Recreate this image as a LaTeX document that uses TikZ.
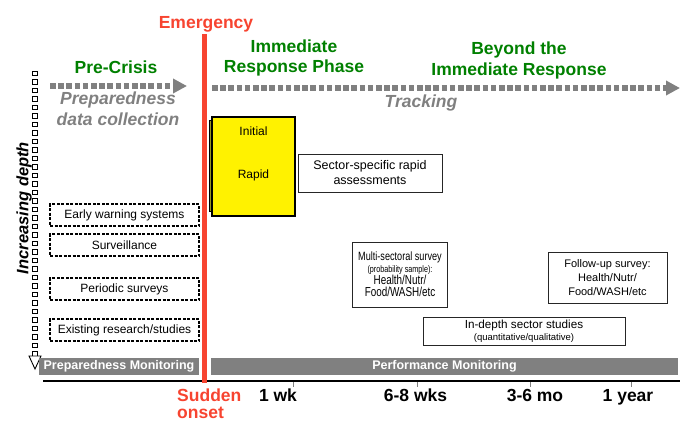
\documentclass[tikz,border=0pt]{standalone}
\usepackage{fontspec}
\setmainfont{Liberation Sans}
\newfontfamily\narrowfont{Liberation Sans}[FakeStretch=0.76]
\usetikzlibrary{arrows.meta}
\definecolor{emred}{RGB}{247,68,48}
\definecolor{ttlgreen}{RGB}{0,128,0}
\definecolor{midgray}{RGB}{128,128,128}
\definecolor{olivebk}{RGB}{150,150,30}
\begin{document}
\begin{tikzpicture}[x=1pt,y=-1pt,
  title/.style={text=ttlgreen, font=\fontsize{17.5}{21}\selectfont\bfseries, anchor=base, inner sep=0pt},
  gtext/.style={text=midgray, font=\fontsize{17.5}{21}\selectfont\bfseries\itshape, anchor=base, inner sep=0pt},
  axlabel/.style={font=\fontsize{17.5}{21}\selectfont\bfseries, anchor=base, inner sep=0pt},
  dotarrow/.style={midgray, line width=5.5pt, dash pattern=on 5.5pt off 2.7pt, -{Triangle[length=14pt,width=14pt]}},
  dashbox/.style={draw, line width=1.2pt, dash pattern=on 3pt off 1.5pt, minimum width=149pt, minimum height=22pt, inner sep=0pt, font=\fontsize{12}{14}\selectfont},
  solidbox/.style={draw=black!85, line width=0.9pt, inner sep=0pt, align=center},
  barnode/.style={fill=midgray, text=white, font=\fontsize{12.5}{14}\selectfont\bfseries, inner sep=0pt, minimum height=17pt},
  sqstyle/.style={draw=black, line width=0.9pt, fill=white}
]
\useasboundingbox (0,0) rectangle (680,421);

% titles
\node[title, text=emred] (emerg) at (206,28.5) {Emergency};
\node[title] (precr) at (116,73) {Pre-Crisis};
\node[title] (irp1) at (294,52.5) {Immediate};
\node[title] (irp2) at (294,72.5) {Response Phase};
\node[title] (bir1) at (519,54) {Beyond the};
\node[title] (bir2) at (519,75) {Immediate Response};

% gray dotted arrows
\coordinate (a1s) at (50,86);
\coordinate (a1e) at (187,86);
\coordinate (a2s) at (212,88);
\coordinate (a2e) at (680,88);
\draw[dotarrow] (a1s) -- (a1e);
\draw[dotarrow] (a2s) -- (a2e);

\node[gtext] (pdc1) at (118,104.5) {Preparedness};
\node[gtext] (pdc2) at (118,125) {data collection};
\node[gtext] (trk) at (421,107) {Tracking};

% increasing depth arrow
\foreach \k in {0,...,33}
  \draw[sqstyle] (32.5,{71+8.5*\k}) rectangle ++(4.5,4.5);
\draw[sqstyle] (29,356) -- (41,356) -- (35,369) -- cycle;
\node[rotate=90, font=\fontsize{16.5}{20}\selectfont\bfseries\itshape, inner sep=0pt] (incd) at (24,208) {Increasing depth};

% left dashed boxes
\node[dashbox] (ews) at (124.5,215) {Early warning systems};
\node[dashbox] (surv) at (124.5,245) {Surveillance};
\node[dashbox] (pers) at (124.5,289) {Periodic surveys};
\node[dashbox] (exrs) at (124.5,330) {Existing research/studies};

% yellow box
\draw[line width=0.8pt, fill=olivebk] (209,120) rectangle (292,211);
\node[draw, line width=2pt, fill=yellow, minimum width=83pt, minimum height=99pt, inner sep=0pt] (yb) at (253.5,166.5) {};
\node[font=\fontsize{12}{14}\selectfont, anchor=base, inner sep=0pt] (init) at (253.5,135) {Initial};
\node[font=\fontsize{12}{14}\selectfont, anchor=base, inner sep=0pt] (rapid) at (253.5,178.3) {Rapid};

% right boxes
\node[solidbox, minimum width=144pt, minimum height=38pt, font=\fontsize{12.5}{15}\selectfont] (sect) at (370,173) {Sector-specific rapid\\assessments};
\node[solidbox, minimum width=95pt, minimum height=65pt] (multi) at (400,274.5)
  {\narrowfont\fontsize{12}{12}\selectfont Multi-sectoral survey\\
   \narrowfont\fontsize{9.5}{11.5}\selectfont (probability sample):\\
   \narrowfont\fontsize{13}{14}\selectfont Health/Nutr/\\
   \narrowfont\fontsize{13}{14.5}\selectfont Food/WASH/etc};
\node[solidbox, minimum width=119pt, minimum height=51pt, font=\fontsize{11}{14.2}\selectfont] (follow) at (607.5,277.5)
  {Follow-up survey:\\Health/Nutr/\\Food/WASH/etc};
\node[solidbox, minimum width=202pt, minimum height=28pt] (indepth) at (524,331)
  {\fontsize{11.7}{12}\selectfont In-depth sector studies\\
   \fontsize{9.5}{11}\selectfont (quantitative/qualitative)};

% bars
\node[barnode, minimum width=160pt] (prepm) at (119,366.5) {Preparedness Monitoring};
\node[barnode, minimum width=467pt] (perfm) at (444.5,366.5) {Performance Monitoring};

% axis
\coordinate (ax0) at (43,381);
\coordinate (ax1) at (680,381);
\draw[line width=2pt] (ax0) -- (ax1);
\foreach \tx in {293,417,530,631}
  \draw[midgray, line width=1pt] (\tx,382) -- (\tx,387);

\node[axlabel] (wk1) at (278,401.5) {1 wk};
\node[axlabel] (wk68) at (415.5,401.5) {6-8 wks};
\node[axlabel] (mo36) at (535,401.5) {3-6 mo};
\node[axlabel] (yr1) at (628,401.5) {1 year};
\node[axlabel, text=emred, anchor=base west] (sudden) at (177,401.5) {Sudden};
\node[axlabel, text=emred, anchor=base west] (onset) at (177,418) {onset};

% red emergency bar
\fill[emred] (202,34) rectangle (207,383);
\end{tikzpicture}
\end{document}
